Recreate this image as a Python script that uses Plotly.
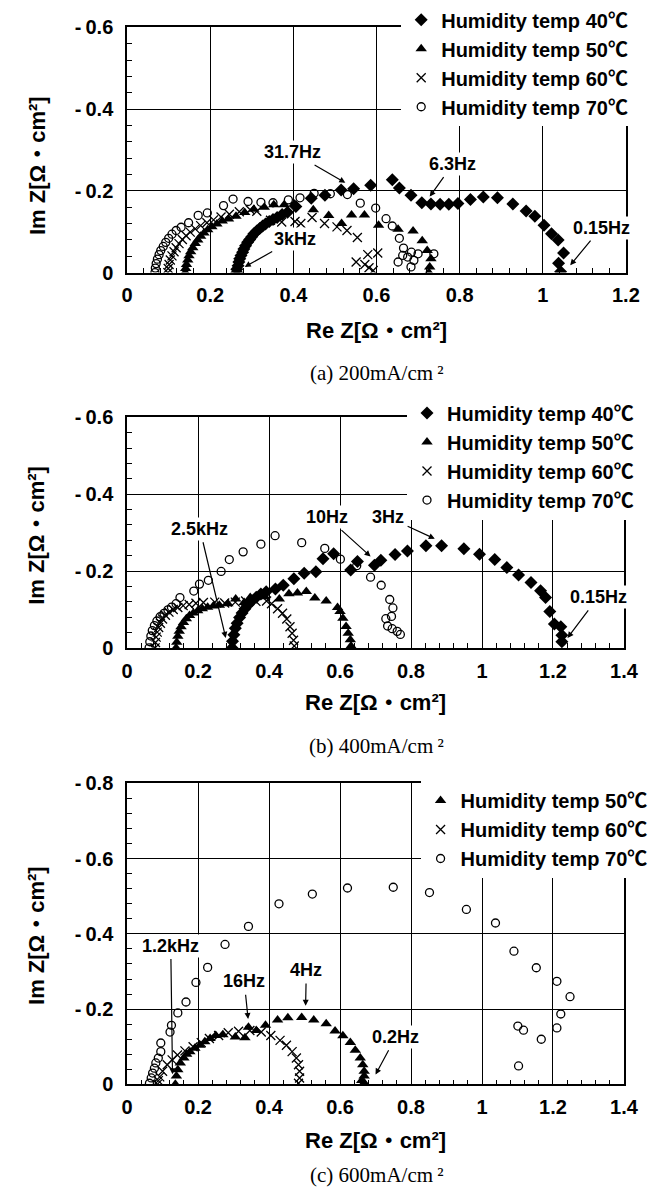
import plotly.graph_objects as go

W, H = 669, 1201

# ---------------- (a) 200 mA/cm2 ----------------
RE_A_40 = [0.264, 0.264, 0.267, 0.269, 0.271, 0.274, 0.278, 0.281, 0.285, 0.290, 0.295, 0.300, 0.305, 0.312,
           0.319, 0.326, 0.333, 0.342, 0.351, 0.361, 0.373, 0.386, 0.406, 0.443, 0.476, 0.515, 0.545, 0.586,
           0.638, 0.655, 0.683, 0.709, 0.731, 0.753, 0.774, 0.796, 0.826, 0.857, 0.891, 0.928, 0.960, 0.981,
           1.003, 1.021, 1.037, 1.050, 1.038, 1.043]
IM_A_40 = [0.000, -0.008, -0.017, -0.026, -0.034, -0.042, -0.050, -0.058, -0.066, -0.074, -0.081, -0.088,
           -0.095, -0.102, -0.108, -0.114, -0.119, -0.125, -0.130, -0.135, -0.142, -0.148, -0.162, -0.182,
           -0.189, -0.202, -0.205, -0.214, -0.227, -0.207, -0.189, -0.171, -0.168, -0.167, -0.167, -0.169,
           -0.179, -0.185, -0.183, -0.168, -0.151, -0.138, -0.116, -0.095, -0.080, -0.048, -0.023, -0.002]

RE_A_50 = [0.140, 0.141, 0.143, 0.146, 0.149, 0.153, 0.158, 0.164, 0.170, 0.177, 0.185, 0.194, 0.204, 0.216,
           0.229, 0.244, 0.262, 0.283, 0.305, 0.330, 0.353, 0.378, 0.402, 0.448, 0.485, 0.516, 0.540, 0.571,
           0.605, 0.652, 0.688, 0.710, 0.722, 0.731, 0.728, 0.726]
IM_A_50 = [0.000, -0.010, -0.020, -0.031, -0.041, -0.051, -0.061, -0.071, -0.080, -0.089, -0.097, -0.105,
           -0.112, -0.119, -0.126, -0.131, -0.138, -0.147, -0.155, -0.160, -0.166, -0.166, -0.168, -0.154,
           -0.140, -0.120, -0.141, -0.141, -0.116, -0.106, -0.102, -0.078, -0.054, -0.034, -0.014, 0.000]

RE_A_60 = [0.098, 0.099, 0.101, 0.104, 0.108, 0.113, 0.118, 0.125, 0.133, 0.142, 0.152, 0.164, 0.177, 0.192,
           0.208, 0.226, 0.246, 0.270, 0.296, 0.312, 0.345, 0.372, 0.404, 0.418, 0.445, 0.475, 0.505, 0.529,
           0.554, 0.579, 0.603, 0.551, 0.572, 0.582, 0.592]
IM_A_60 = [0.000, -0.010, -0.020, -0.031, -0.041, -0.051, -0.061, -0.071, -0.081, -0.090, -0.099, -0.107,
           -0.115, -0.122, -0.129, -0.136, -0.143, -0.149, -0.154, -0.150, -0.128, -0.124, -0.125, -0.120,
           -0.135, -0.120, -0.112, -0.103, -0.086, -0.044, -0.048, -0.026, -0.020, -0.012, -0.005]

RE_A_70 = [0.067, 0.068, 0.070, 0.073, 0.077, 0.081, 0.087, 0.093, 0.100, 0.108, 0.118, 0.130, 0.148, 0.171,
           0.193, 0.232, 0.255, 0.291, 0.322, 0.351, 0.388, 0.416, 0.450, 0.489, 0.530, 0.561, 0.598, 0.623,
           0.638, 0.655, 0.665, 0.684, 0.663, 0.675, 0.690, 0.652, 0.683, 0.700, 0.738]
IM_A_70 = [0.000, -0.011, -0.022, -0.033, -0.044, -0.054, -0.064, -0.074, -0.084, -0.094, -0.103, -0.111,
           -0.122, -0.140, -0.146, -0.164, -0.180, -0.174, -0.172, -0.171, -0.178, -0.183, -0.194, -0.193,
           -0.191, -0.170, -0.158, -0.132, -0.114, -0.084, -0.060, -0.050, -0.042, -0.038, -0.030, -0.026,
           -0.014, -0.046, -0.046]

# ---------------- (b) 400 mA/cm2 ----------------
RE_B_40 = [0.296, 0.297, 0.301, 0.305, 0.310, 0.317, 0.324, 0.332, 0.342, 0.352, 0.364, 0.377, 0.392, 0.418,
           0.440, 0.470, 0.499, 0.532, 0.552, 0.582, 0.630, 0.649, 0.697, 0.715, 0.755, 0.790, 0.842, 0.886,
           0.949, 0.993, 1.036, 1.070, 1.103, 1.138, 1.165, 1.179, 1.191, 1.204, 1.222, 1.225, 1.225]
IM_B_40 = [0.000, -0.017, -0.034, -0.051, -0.064, -0.079, -0.091, -0.102, -0.113, -0.123, -0.132, -0.140,
           -0.146, -0.153, -0.163, -0.180, -0.194, -0.198, -0.232, -0.245, -0.203, -0.225, -0.215, -0.228,
           -0.243, -0.252, -0.266, -0.266, -0.258, -0.244, -0.230, -0.209, -0.190, -0.170, -0.149, -0.131,
           -0.095, -0.062, -0.055, -0.033, -0.016]

RE_B_50 = [0.138, 0.140, 0.143, 0.147, 0.152, 0.159, 0.167, 0.176, 0.187, 0.199, 0.212, 0.227, 0.243, 0.260,
           0.284, 0.306, 0.330, 0.347, 0.388, 0.429, 0.456, 0.480, 0.505, 0.529, 0.561, 0.593, 0.600, 0.608,
           0.617, 0.623, 0.629, 0.631]
IM_B_50 = [0.000, -0.015, -0.030, -0.043, -0.055, -0.066, -0.076, -0.084, -0.091, -0.097, -0.102, -0.106,
           -0.109, -0.111, -0.115, -0.127, -0.118, -0.131, -0.133, -0.127, -0.141, -0.143, -0.147, -0.130,
           -0.122, -0.105, -0.095, -0.077, -0.056, -0.038, -0.021, -0.005]

RE_B_60 = [0.079, 0.080, 0.082, 0.085, 0.089, 0.094, 0.100, 0.108, 0.118, 0.130, 0.143, 0.158, 0.175, 0.194,
           0.215, 0.247, 0.275, 0.305, 0.334, 0.363, 0.393, 0.407, 0.424, 0.438, 0.450, 0.459, 0.465, 0.469,
           0.471]
IM_B_60 = [0.000, -0.014, -0.028, -0.041, -0.053, -0.064, -0.075, -0.085, -0.093, -0.100, -0.105, -0.110,
           -0.113, -0.116, -0.118, -0.119, -0.117, -0.119, -0.122, -0.121, -0.122, -0.115, -0.102, -0.090,
           -0.075, -0.055, -0.038, -0.020, -0.005]

RE_B_70 = [0.062, 0.064, 0.067, 0.071, 0.077, 0.084, 0.093, 0.104, 0.115, 0.125, 0.138, 0.149, 0.188, 0.204,
           0.229, 0.265, 0.288, 0.327, 0.377, 0.417, 0.492, 0.557, 0.601, 0.647, 0.686, 0.716, 0.740, 0.749,
           0.745, 0.729, 0.734, 0.747, 0.761, 0.770]
IM_B_70 = [0.000, -0.016, -0.031, -0.045, -0.058, -0.070, -0.081, -0.090, -0.099, -0.106, -0.115, -0.131,
           -0.148, -0.166, -0.176, -0.199, -0.230, -0.250, -0.270, -0.292, -0.274, -0.259, -0.231, -0.214,
           -0.184, -0.163, -0.126, -0.104, -0.082, -0.076, -0.057, -0.050, -0.043, -0.035]

# ---------------- (c) 600 mA/cm2 ----------------
RE_C_50 = [0.136, 0.139, 0.143, 0.150, 0.160, 0.168, 0.177, 0.191, 0.205, 0.219, 0.234, 0.250, 0.270, 0.305,
           0.332, 0.342, 0.364, 0.390, 0.424, 0.453, 0.492, 0.526, 0.561, 0.586, 0.608, 0.629, 0.643, 0.657,
           0.664, 0.668, 0.668, 0.661, 0.668]
IM_C_50 = [0.000, -0.022, -0.039, -0.057, -0.070, -0.080, -0.087, -0.096, -0.104, -0.113, -0.122, -0.130,
           -0.132, -0.126, -0.124, -0.152, -0.143, -0.157, -0.171, -0.177, -0.178, -0.171, -0.161, -0.142,
           -0.129, -0.111, -0.091, -0.070, -0.052, -0.035, -0.022, -0.010, -0.004]

RE_C_60 = [0.085, 0.088, 0.092, 0.100, 0.113, 0.127, 0.142, 0.163, 0.186, 0.209, 0.232, 0.258, 0.285, 0.314,
           0.346, 0.378, 0.405, 0.431, 0.449, 0.465, 0.477, 0.483, 0.486, 0.486, 0.483]
IM_C_60 = [0.000, -0.010, -0.020, -0.035, -0.052, -0.065, -0.078, -0.089, -0.100, -0.111, -0.122, -0.130,
           -0.137, -0.141, -0.143, -0.139, -0.130, -0.117, -0.104, -0.087, -0.070, -0.052, -0.035, -0.017,
           -0.003]

RE_C_70 = [0.063, 0.068, 0.072, 0.077, 0.081, 0.088, 0.095, 0.095, 0.121, 0.125, 0.143, 0.166, 0.194, 0.227,
           0.276, 0.342, 0.428, 0.522, 0.621, 0.750, 0.852, 0.956, 1.038, 1.090, 1.153, 1.211, 1.248, 1.222,
           1.211, 1.167, 1.117, 1.101, 1.103]
IM_C_70 = [-0.003, -0.017, -0.030, -0.043, -0.057, -0.070, -0.087, -0.110, -0.139, -0.157, -0.190, -0.219,
           -0.271, -0.311, -0.372, -0.420, -0.480, -0.506, -0.522, -0.524, -0.510, -0.465, -0.429, -0.354,
           -0.310, -0.274, -0.233, -0.187, -0.150, -0.120, -0.144, -0.155, -0.049]

TEMPS_AB = [40, 50, 60, 70]
TEMPS_C = [50, 60, 70]
X_TICKS_A = [0, 0.2, 0.4, 0.6, 0.8, 1.0, 1.2]
X_TICKS_BC = [0, 0.2, 0.4, 0.6, 0.8, 1.0, 1.2, 1.4]
Y_TICKS_AB = [0, -0.2, -0.4, -0.6]
Y_TICKS_C = [0, -0.2, -0.4, -0.6, -0.8]
CAPTIONS = ["(a) 200mA/cm\u2009²", "(b) 400mA/cm\u2009²", "(c) 600mA/cm\u2009²"]
X_TITLE = "Re Z[Ω・cm²]"
Y_TITLE = "Im Z[Ω・cm²]"

# frequency labels: (text, text_x, text_y, head_x, head_y)
LABELS_A = [("31.7Hz", 0.399, -0.294, 0.525, -0.220),
            ("6.3Hz", 0.784, -0.266, 0.728, -0.186),
            ("3kHz", 0.403, -0.082, 0.283, -0.014),
            ("0.15Hz", 1.141, -0.110, 1.066, -0.018)]
LABELS_B = [("2.5kHz", 0.205, -0.310, 0.278, -0.026),
            ("10Hz", 0.564, -0.340, 0.686, -0.238),
            ("3Hz", 0.736, -0.340, 0.867, -0.284),
            ("0.15Hz", 1.327, -0.132, 1.241, -0.026)]
LABELS_C = [("1.2kHz", 0.123, -0.369, 0.128, -0.027),
            ("16Hz", 0.330, -0.274, 0.341, -0.174),
            ("4Hz", 0.505, -0.304, 0.503, -0.209),
            ("0.2Hz", 0.757, -0.126, 0.700, -0.026)]

FONT = "Liberation Sans, Arial, Noto Sans CJK JP, sans-serif"
SERIF = "Liberation Serif, Times New Roman, serif"


def fx(p):
    return p / W


def fy(p):
    return 1 - p / H


MARKERS = {
    40: dict(symbol="diamond", size=10, color="black"),
    50: dict(symbol="triangle-up", size=10, color="black"),
    60: dict(symbol="x-thin-open", size=9, color="black", line=dict(color="black", width=1.3)),
    70: dict(symbol="circle-open", size=8, color="black", line=dict(color="black", width=1.3)),
}

PANELS = [
    dict(ax="", temps=TEMPS_AB, re=[RE_A_40, RE_A_50, RE_A_60, RE_A_70], im=[IM_A_40, IM_A_50, IM_A_60, IM_A_70],
         xd=(125, 640), yd=(15.7, 265.7), xt=X_TICKS_A, yt=Y_TICKS_AB, labels=LABELS_A, legend="legend",
         leg=(408, -12), xtitle_y=325, ytitle_y=156, cap_y=368),
    dict(ax="2", temps=TEMPS_AB, re=[RE_B_40, RE_B_50, RE_B_60, RE_B_70], im=[IM_B_40, IM_B_50, IM_B_60, IM_B_70],
         xd=(125, 638), yd=(413.3, 648.3), xt=X_TICKS_BC, yt=Y_TICKS_AB, labels=LABELS_B, legend="legend2",
         leg=(414, 389), xtitle_y=704, ytitle_y=533, cap_y=748),
    dict(ax="3", temps=TEMPS_C, re=[RE_C_50, RE_C_60, RE_C_70], im=[IM_C_50, IM_C_60, IM_C_70],
         xd=(125, 638), yd=(786.5, 1093.3), xt=X_TICKS_BC, yt=Y_TICKS_C, labels=LABELS_C, legend="legend3",
         leg=(428, 784), xtitle_y=1151, ytitle_y=941, cap_y=1186),
]

fig = go.Figure()
annotations = []
layout = {}

for i, p in enumerate(PANELS):
    xa, ya = "x" + p["ax"], "y" + p["ax"]
    for t, xs, ys in zip(p["temps"], p["re"], p["im"]):
        fig.add_trace(go.Scatter(x=xs, y=ys, mode="markers", name=f"Humidity temp {t}℃",
                                 marker=MARKERS[t], xaxis=xa, yaxis=ya, legend=p["legend"],
                                 showlegend=True))
    common = dict(showline=True, linecolor="black", linewidth=1.6, mirror=True,
                  showgrid=True, gridcolor="black", gridwidth=1, zeroline=False,
                  ticks="inside", ticklen=6, tickcolor="black", tickwidth=1,
                  tickfont=dict(family=FONT, size=20, color="black", weight="bold"),
                  minor=dict(tickmode="linear", tick0=0, dtick=0.04, ticks="inside", ticklen=5,
                             tickcolor="black", tickwidth=1, showgrid=False))
    layout["xaxis" + p["ax"]] = dict(common, domain=[fx(p["xd"][0]), fx(p["xd"][1])],
                                     range=[0, p["xt"][-1]], tickmode="array", tickvals=p["xt"],
                                     ticktext=[f"{v:g}" for v in p["xt"]], anchor=ya,
                                     ticklabelstandoff=4)
    layout["yaxis" + p["ax"]] = dict(common, domain=[fy(p["yd"][1]), fy(p["yd"][0])],
                                     range=[0, p["yt"][-1]], tickmode="array", tickvals=p["yt"],
                                     ticktext=["0" if v == 0 else "-\u2009" + f"{-v:g}" for v in p["yt"]],
                                     anchor=xa, ticklabelstandoff=8)
    lname = p["legend"]
    layout[lname] = dict(x=fx(p["leg"][0]), y=fy(p["leg"][1]), xanchor="left", yanchor="top",
                         bgcolor="white", borderwidth=0, itemwidth=30, tracegroupgap=0,
                         font=dict(family=FONT, size=20, color="black", weight="bold"))
    xc = (p["xd"][0] + p["xd"][1]) / 2
    annotations.append(dict(text=X_TITLE, x=fx(xc), y=fy(p["xtitle_y"]), xref="paper",
                            yref="paper", showarrow=False, xanchor="center", yanchor="middle",
                            font=dict(family=FONT, size=22, color="black", weight="bold")))
    annotations.append(dict(text=Y_TITLE, x=fx(32), y=fy(p["ytitle_y"]), xref="paper",
                            yref="paper", showarrow=False, textangle=-90, xanchor="center",
                            yanchor="middle",
                            font=dict(family=FONT, size=22, color="black", weight="bold")))
    annotations.append(dict(text=CAPTIONS[i], x=fx(383), y=fy(p["cap_y"]),
                            xref="paper", yref="paper", showarrow=False, xanchor="center",
                            yanchor="middle", font=dict(family=SERIF, size=21, color="black")))
    for (txt, tx, ty, hx, hy) in p["labels"]:
        annotations.append(dict(text=txt, x=hx, y=hy, ax=tx, ay=ty, xref=xa, yref=ya, axref=xa,
                                ayref=ya, showarrow=True, arrowhead=2, arrowsize=1, arrowwidth=1.2,
                                arrowcolor="black", standoff=0, startstandoff=2,
                                bgcolor="white", borderpad=1,
                                font=dict(family=FONT, size=18, color="black", weight="bold")))

fig.update_layout(width=W, height=H, margin=dict(l=0, r=0, t=0, b=0), plot_bgcolor="white",
                  paper_bgcolor="white", annotations=annotations, **layout)
fig.write_html("out.html")
